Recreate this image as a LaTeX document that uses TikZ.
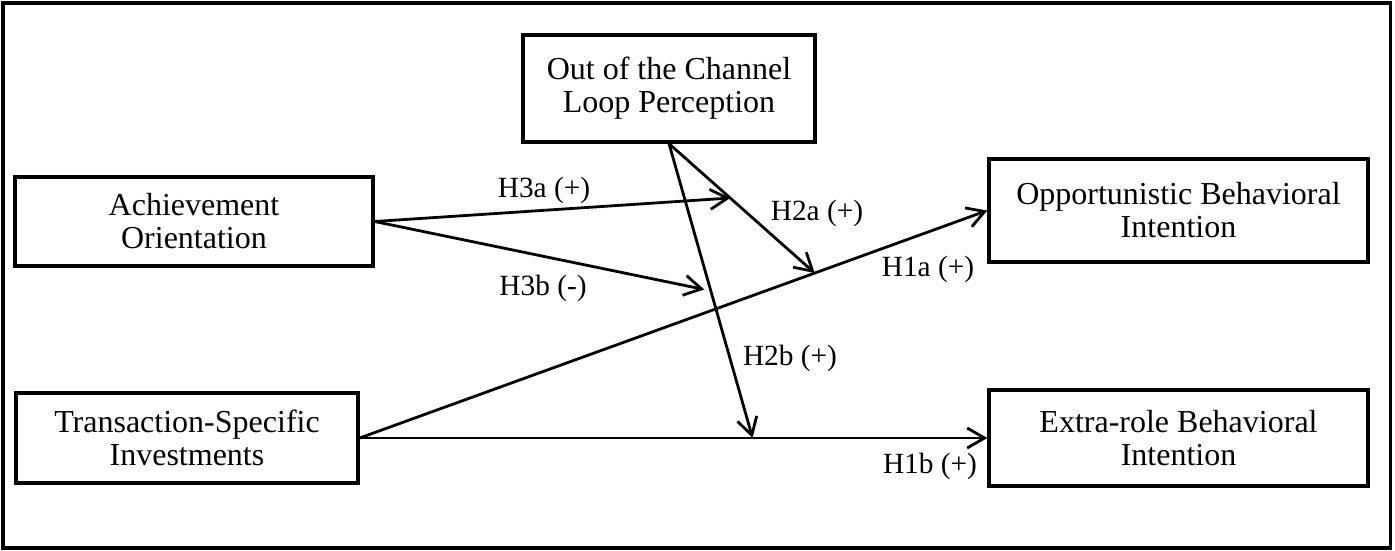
\documentclass[tikz,border=0pt]{standalone}
\usepackage{fontspec}
\setmainfont{Liberation Serif}
\usepackage{tikz}
\usetikzlibrary{positioning,arrows.meta,calc}
\definecolor{FrameLine}{RGB}{0,0,0}
\newdimen\pxu
\pxu=0.375pt

\begin{document}
\begin{tikzpicture}[
    x=0.375pt, y=-0.375pt,
    box/.style={rectangle, draw=FrameLine, line width=1.25pt, align=center, inner sep=0pt, font=\fontsize{12}{12.4}\selectfont},
    hyp/.style={-{Straight Barb[length=6.5pt, width=7.5pt]}, line width=1.05pt},
    tag/.style={font=\fontsize{11}{13}\selectfont, anchor=base},
]
\useasboundingbox (0,0) rectangle (1395,550);
\draw[line width=1.3pt, FrameLine] (3,3) rectangle (1390.5,548);

\node[box, minimum width=292\pxu, minimum height=107\pxu] (loop) at (669,88.5) {Out of the Channel\\Loop Perception};
\node[box, minimum width=358\pxu, minimum height=89\pxu] (ach) at (194,221.5) {Achievement\\Orientation};
\node[box, minimum width=342\pxu, minimum height=90\pxu] (trans) at (187,438) {Transaction-Specific\\Investments};
\node[box, minimum width=379\pxu, minimum height=103\pxu] (opp) at (1178.5,210.5) {Opportunistic Behavioral\\Intention};
\node[box, minimum width=379\pxu, minimum height=96\pxu] (extra) at (1178.5,438) {Extra-role Behavioral\\Intention};

% points where the moderating paths meet
\coordinate (m1a) at ($(trans.east)!0.725!(opp.west)$);
\coordinate (m1b) at ($(trans.east)!0.626!(extra.west)$);
\coordinate (m2a) at ($(loop.south)!0.42!(m1a)$);
\coordinate (m2b) at ($(loop.south)!0.5!(m1b)$);

\draw[hyp] (trans.east) -- (opp.west);
\draw[hyp] (trans.east) -- (extra.west);
\draw[hyp] (loop.south) -- (m1a);
\draw[hyp] (loop.south) -- (m1b);
\draw[hyp] (ach.east) -- (m2a);
\draw[hyp, shorten >=2.5pt] (ach.east) -- (m2b);

\node[tag] (t3a) at (544,197) {H3a (+)};
\node[tag] (t3b) at (543,295) {H3b (-)};
\node[tag] (t2a) at (817,220) {H2a (+)};
\node[tag] (t1a) at (928,276) {H1a (+)};
\node[tag] (t2b) at (790,365) {H2b (+)};
\node[tag] (t1b) at (930,473) {H1b (+)};
\end{tikzpicture}
\end{document}
